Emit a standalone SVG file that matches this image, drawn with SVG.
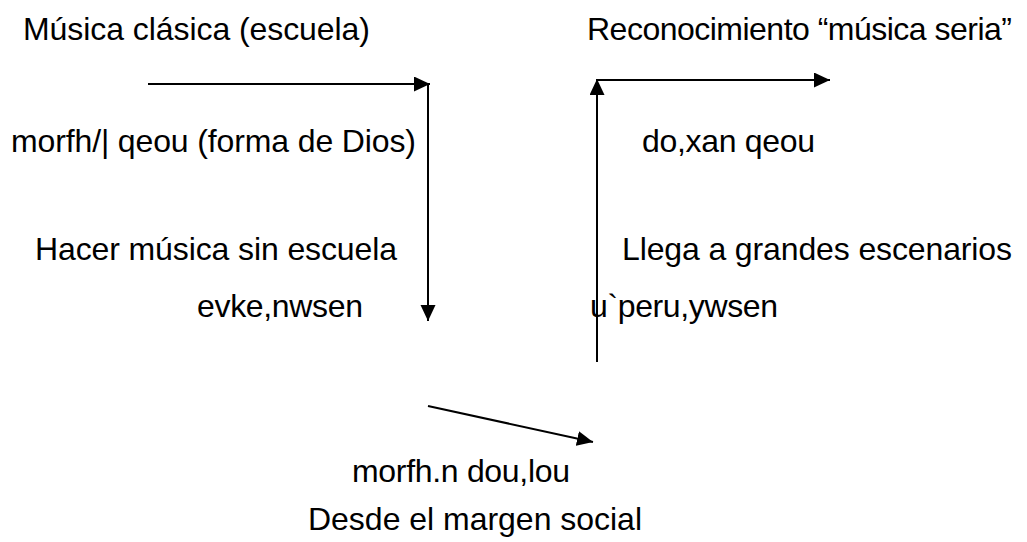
<svg xmlns="http://www.w3.org/2000/svg" width="1027" height="542" viewBox="0 0 1027 542">
<style>
text { font-family: "Liberation Sans", Arial, sans-serif; font-size: 32px; fill: #000; }
.c { stroke: #000; stroke-width: 2; fill: none; }
</style>
<defs>
<marker id="ah" markerUnits="userSpaceOnUse" markerWidth="17" markerHeight="16" refX="16" refY="7.5" orient="auto">
<path d="M0,0 L16,7.5 L0,15 z" fill="#000"/>
</marker>
</defs>
<rect width="1027" height="542" fill="#fff"/>
<g id="connectors">
<path class="c" d="M148,84 L430,84" marker-end="url(#ah)"/>
<path class="c" d="M428,84 L428,321" marker-end="url(#ah)"/>
<path class="c" d="M597,362 L597,79" marker-end="url(#ah)"/>
<path class="c" d="M597,80 L830,80" marker-end="url(#ah)"/>
<path class="c" d="M428,406 L593,442" marker-end="url(#ah)"/>
</g>
<g id="n1"><text x="23" y="40" textLength="347">Música clásica (escuela)</text></g>
<g id="n2"><text x="587" y="40" textLength="425">Reconocimiento “música seria”</text></g>
<g id="n3"><text x="11" y="152" textLength="405">morfh/| qeou (forma de Dios)</text></g>
<g id="n4"><text x="642" y="152" textLength="173">do,xan qeou</text></g>
<g id="n5"><text x="35" y="260" textLength="362">Hacer música sin escuela</text></g>
<g id="n6"><text x="622" y="260" textLength="390">Llega a grandes escenarios</text></g>
<g id="n7"><text x="197" y="317" textLength="166">evke,nwsen</text></g>
<g id="n8"><text x="590" y="317" textLength="188">u`peru,ywsen</text></g>
<g id="n9"><text x="352" y="482" textLength="218">morfh.n dou,lou</text></g>
<g id="n10"><text x="308" y="530" textLength="334">Desde el margen social</text></g>
</svg>
